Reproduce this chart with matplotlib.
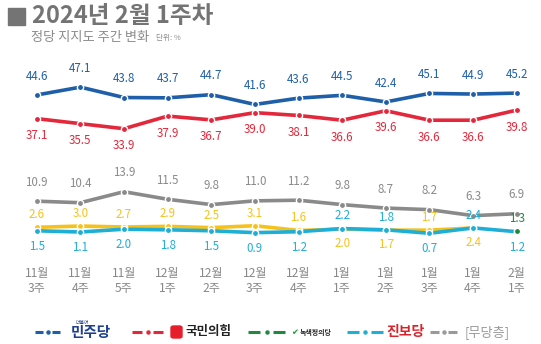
import matplotlib.pyplot as plt
from matplotlib.lines import Line2D
from matplotlib.patches import Rectangle, FancyBboxPatch
import numpy as np

plt.rcParams['font.family'] = ['Noto Sans CJK KR', 'DejaVu Sans']

# 데이터 (단위: %)
weeks = ['11월\n3주', '11월\n4주', '11월\n5주', '12월\n1주', '12월\n2주', '12월\n3주',
         '12월\n4주', '1월\n1주', '1월\n2주', '1월\n3주', '1월\n4주', '2월\n1주']
minju = [44.6, 47.1, 43.8, 43.7, 44.7, 41.6, 43.6, 44.5, 42.4, 45.1, 44.9, 45.2]
ppp = [37.1, 35.5, 33.9, 37.9, 36.7, 39.0, 38.1, 36.6, 39.6, 36.6, 36.6, 39.8]
nonparty = [10.9, 10.4, 13.9, 11.5, 9.8, 11.0, 11.2, 9.8, 8.7, 8.2, 6.3, 6.9]
justice = [2.6, 3.0, 2.7, 2.9, 2.5, 3.1, 1.6, 2.0, 1.7, 1.7, 2.4]
green_justice = [1.3]
progressive = [1.5, 1.1, 2.0, 1.8, 1.5, 0.9, 1.2, 2.2, 1.8, 0.7, 2.4, 1.2]

# 라벨 위치 (위/아래)
justice_pos = ['up'] * 7 + ['down', 'down', 'up', 'down']
progressive_pos = ['down'] * 7 + ['up', 'up', 'down', 'up', 'down']

c_blue = '#1f5fa9'
c_red = '#e3283b'
c_gray = '#8a8a8a'
c_yellow = '#f6c21a'
c_cyan = '#1eaed6'
c_green = '#1f8a3f'

fig = plt.figure(figsize=(5.41, 3.44), dpi=100)
ax = fig.add_axes([0, 0, 1, 1])
ax.set_xlim(-0.841, 11.556)
ax.set_ylim(-34.45, 74.76)
ax.axis('off')

x = np.arange(len(weeks))


def draw(vals, color, pos, dy_up=6.0, dy_down=5.4, xs=None, line=True):
    xs = x[:len(vals)] if xs is None else xs
    if line:
        ax.plot(xs, vals, color=color, lw=2.6, solid_capstyle='round', zorder=3)
    ax.plot(xs, vals, 'o', color=color, ms=4.5, mec='white', mew=1.0, zorder=4)
    for i, (xi, v) in enumerate(zip(xs, vals)):
        p = pos[i] if isinstance(pos, list) else pos
        y = v + dy_up if p == 'up' else v - dy_down
        ax.text(xi, y, f'{v:.1f}', color=color, fontsize=8.3, ha='center', va='center', zorder=5)


draw(minju, c_blue, 'up')
draw(ppp, c_red, 'down')
draw(nonparty, c_gray, 'up')
draw(justice, c_yellow, justice_pos, dy_up=4.0, dy_down=4.6)
draw(progressive, c_cyan, progressive_pos, dy_up=4.0, dy_down=4.9)
draw(green_justice, c_green, 'up', dy_up=4.0, xs=x[-1:], line=False)

# x축 라벨
for xi, w in zip(x, weeks):
    m, wk = w.split('\n')
    ax.text(xi, 0.205, m, transform=ax.get_xaxis_transform(), color='#888888',
            fontsize=8.7, ha='center', va='center')
    ax.text(xi, 0.162, wk, transform=ax.get_xaxis_transform(), color='#888888',
            fontsize=8.7, ha='center', va='center')

# 제목
W, H = 541, 344
fig.patches.append(Rectangle((8 / W, 1 - 25 / H), 17 / W, 17 / H, transform=fig.transFigure,
                             color='#747474', figure=fig))
fig.text(32 / W, 1 - 16 / H, '2024년 2월 1주차', fontsize=17, fontweight='heavy',
         color='#747474', ha='left', va='center')
fig.text(31 / W, 1 - 37 / H, '정당 지지도 주간 변화', fontsize=9.5, color='#8a8a8a',
         ha='left', va='center')
fig.text(156 / W, 1 - 38 / H, '단위: %', fontsize=5.5, color='#8a8a8a', ha='left', va='center')

# 범례
ly = 1 - 332 / H


def legend_sym(x0, x1, color):
    seg = (x1 - x0) * 0.33
    for a, b in [(x0, x0 + seg), (x1 - seg, x1)]:
        fig.lines.append(Line2D([a / W, b / W], [ly, ly], transform=fig.transFigure,
                                color=color, lw=2.2, solid_capstyle='butt'))
    fig.lines.append(Line2D([(x0 + x1) / 2 / W], [ly], transform=fig.transFigure,
                            color=color, marker='o', ms=2.2, lw=0))


legend_sym(35, 60, c_blue)
fig.text(71 / W, ly, '민주당', fontsize=10.5, fontweight='bold', color='#1d3f8f',
         ha='left', va='center')
fig.text(76 / W, ly + 10 / H, '더불어', fontsize=3.5, color='#1d3f8f', ha='left', va='center')

legend_sym(132, 163, c_red)
fig.patches.append(FancyBboxPatch((171 / W, ly - 6 / H), 11 / W, 12 / H,
                                  boxstyle='round,pad=0,rounding_size=0.005',
                                  transform=fig.transFigure, color='#e61e2b', figure=fig))
fig.text(185 / W, ly, '국민의힘', fontsize=9, fontweight='bold', color='#222222',
         ha='left', va='center')

legend_sym(248, 285, c_green)
fig.text(291 / W, ly, '✔', fontsize=6, color='#1a9a3a', ha='left', va='center',
         family=['DejaVu Sans'])
fig.text(300 / W, ly, '녹색정의당', fontsize=5, fontweight='bold', color='#222222',
         ha='left', va='center')

legend_sym(347, 383, c_cyan)
fig.text(386 / W, ly, '진보당', fontsize=10, fontweight='bold', color='#d8232a',
         ha='left', va='center')

legend_sym(430, 457, '#9a9a9a')
fig.text(465 / W, ly, '[무당층]', fontsize=9.5, color='#9a9a9a', ha='left', va='center')

plt.savefig('out.png', dpi=100)
